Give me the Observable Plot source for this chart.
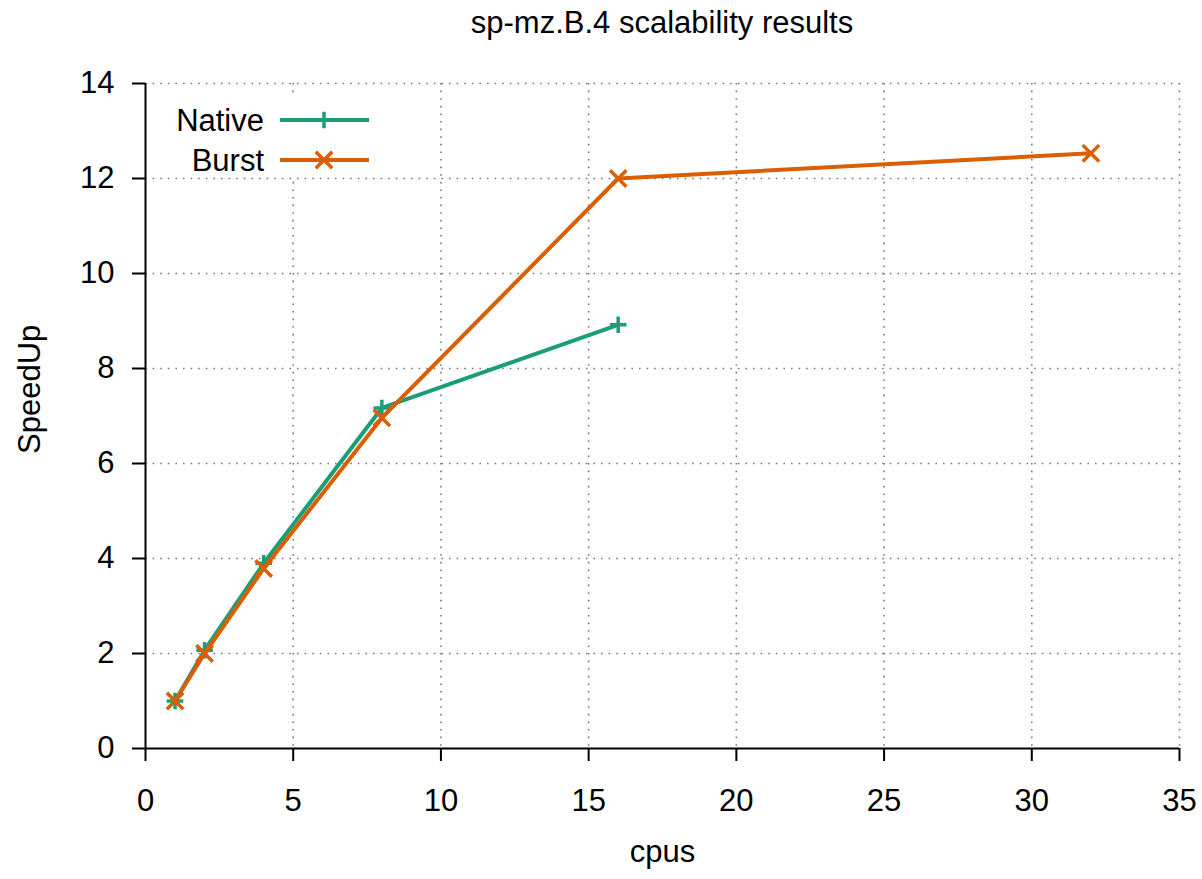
<!DOCTYPE html>
<html><head><meta charset="utf-8">
<script src="https://cdn.jsdelivr.net/npm/d3@7"></script>
<script src="https://cdn.jsdelivr.net/npm/@observablehq/plot@0.6"></script>
<style>
body{margin:0;background:#fff;font-family:"Liberation Sans",Arial,sans-serif;}
#wrap{position:relative;width:1202px;height:879px;overflow:hidden;}
#title{height:45px;width:1034px;padding-left:145px;text-align:center;font-size:31px;line-height:46px;color:#000;white-space:nowrap;}
#legend{position:absolute;left:163px;top:97px;}
</style></head><body>
<div id="wrap">
<div id="title"></div>
<div id="chart"></div>
<div id="legend"></div>
</div>
<script>
const chartTitle = "sp-mz.B.4 scalability results";
const xLabel = "cpus";
const yLabel = "SpeedUp";
const seriesNames = ["Native", "Burst"];
const seriesColors = ["#1b9e77", "#d95f02"];
const seriesSymbols = ["plus", "times"];
const nativeCpus = [1, 2, 4, 8, 16];
const nativeSpeedup = [1.0, 2.07, 3.9, 7.17, 8.92];
const burstCpus = [1, 2, 4, 8, 16, 32];
const burstSpeedup = [1.0, 2.0, 3.79, 6.96, 12.0, 12.53];
const xTicks = [0, 5, 10, 15, 20, 25, 30, 35];
const yTicks = [0, 2, 4, 6, 8, 10, 12, 14];

document.getElementById("title").textContent = chartTitle;

const native = nativeCpus.map((c, i) => ({cpus: c, speedup: nativeSpeedup[i]}));
const burst = burstCpus.map((c, i) => ({cpus: c, speedup: burstSpeedup[i]}));
const FONT = "'Liberation Sans', Arial, sans-serif";
const FS = 31;
const gridStyle = {stroke: "#777", strokeOpacity: 1, strokeWidth: 1.6, strokeDasharray: "1.6,6"};
const symR = [5.4, 7.5];

const plot = Plot.plot({
  width: 1202,
  height: 834,
  marginTop: 38,
  marginBottom: 131,
  marginLeft: 145,
  marginRight: 23,
  style: {fontFamily: FONT, fontSize: FS + "px", color: "#000", background: "#fff", overflow: "visible"},
  x: {domain: [xTicks[0], xTicks[xTicks.length - 1]]},
  y: {domain: [yTicks[0], yTicks[yTicks.length - 1]]},
  marks: [
    Plot.gridX(xTicks.slice(1), gridStyle),
    Plot.gridY(yTicks.slice(1), gridStyle),
    Plot.axisX(xTicks, {tickSize: 13, tickPadding: 27, strokeWidth: 2, label: null, stroke: "#000"}),
    Plot.axisY(yTicks, {tickSize: 13, tickPadding: 18, strokeWidth: 2, label: null, stroke: "#000"}),
    Plot.ruleY([yTicks[0]], {stroke: "#000", strokeWidth: 2}),
    Plot.ruleX([xTicks[0]], {stroke: "#000", strokeWidth: 2}),
    Plot.line(native, {x: "cpus", y: "speedup", stroke: seriesColors[0], strokeWidth: 4}),
    Plot.dot(native, {x: "cpus", y: "speedup", symbol: seriesSymbols[0], stroke: seriesColors[0], r: symR[0], strokeWidth: 3.5}),
    Plot.line(burst, {x: "cpus", y: "speedup", stroke: seriesColors[1], strokeWidth: 4}),
    Plot.dot(burst, {x: "cpus", y: "speedup", symbol: seriesSymbols[1], stroke: seriesColors[1], r: symR[1], strokeWidth: 3.5}),
    Plot.text([xLabel], {frameAnchor: "bottom", dy: 113, fontSize: FS, fill: "#000"}),
    Plot.text([yLabel], {frameAnchor: "left", dx: -115, dy: 38, rotate: -90, fontSize: FS, fill: "#000"})
  ]
});
document.getElementById("chart").appendChild(plot);

// legend (white box over the grid, as in the original)
const lg = d3.select("#legend").append("svg")
  .attr("width", 217).attr("height", 90)
  .style("display", "block").style("overflow", "visible");
lg.append("rect").attr("width", 217).attr("height", 79).attr("fill", "#fff");
const rowsY = [23, 63];
seriesNames.forEach((name, i) => {
  const y = rowsY[i];
  lg.append("text").attr("x", 101).attr("y", y).attr("dy", "0.35em")
    .attr("text-anchor", "end").attr("font-family", FONT).attr("font-size", FS).attr("fill", "#000")
    .text(name);
  lg.append("line").attr("x1", 117).attr("x2", 206).attr("y1", y).attr("y2", y)
    .attr("stroke", seriesColors[i]).attr("stroke-width", 4);
  const sym = i === 0 ? d3.symbolPlus : d3.symbolTimes;
  const size = Math.PI * symR[i] * symR[i];
  lg.append("path").attr("d", d3.symbol(sym, size)()).attr("transform", `translate(161,${y})`)
    .attr("fill", "none").attr("stroke", seriesColors[i]).attr("stroke-width", 3.5);
});
</script>
</body></html>
